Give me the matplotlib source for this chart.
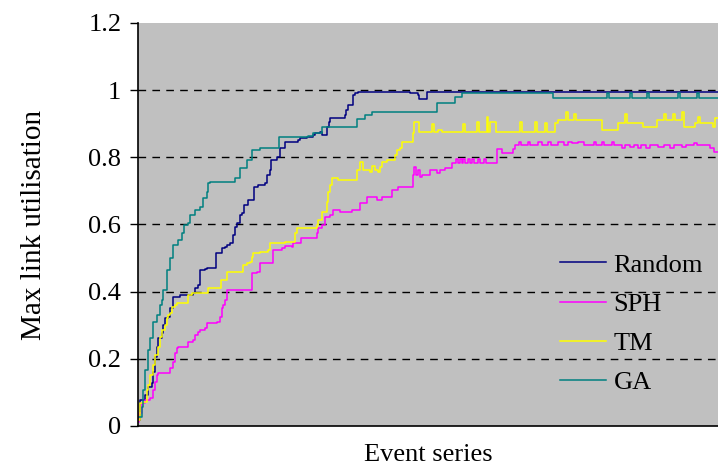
import matplotlib
matplotlib.use('Agg')
import matplotlib.pyplot as plt

plt.rcParams['font.family'] = ['Liberation Serif', 'DejaVu Serif']

# step series: event index where the value changes, and the new value
random_x = [0, 2, 7, 10, 14, 15, 17, 19, 20, 24, 25, 27, 30, 32, 35, 42, 55, 57, 60, 62, 67, 69,
            78, 84, 87, 89, 92, 95, 97, 99, 102, 104, 106, 110, 116, 120, 127, 129, 132, 133, 139,
            142, 147, 160, 162, 169, 175, 177, 182, 184, 189, 191, 192, 207, 208, 210, 215, 217,
            220, 272, 280, 281, 289, 580]
random_y = [0.018, 0.077, 0.092, 0.116, 0.128, 0.161, 0.205, 0.235, 0.262, 0.277, 0.301, 0.321,
            0.324, 0.351, 0.384, 0.39, 0.396, 0.411, 0.42, 0.464, 0.467, 0.47, 0.515, 0.53, 0.533,
            0.539, 0.545, 0.568, 0.592, 0.604, 0.628, 0.634, 0.658, 0.673, 0.711, 0.717, 0.723,
            0.747, 0.762, 0.792, 0.801, 0.827, 0.845, 0.851, 0.857, 0.86, 0.866, 0.872, 0.875,
            0.866, 0.89, 0.905, 0.917, 0.926, 0.94, 0.955, 0.985, 0.991, 0.994, 0.991, 0.985,
            0.973, 0.994, 0.994]

sph_x = [0, 1, 4, 7, 12, 15, 17, 19, 20, 32, 35, 37, 39, 40, 50, 55, 57, 60, 62, 67, 69, 79, 82,
         84, 85, 87, 89, 114, 119, 122, 135, 144, 147, 154, 155, 163, 179, 180, 184, 187, 192,
         195, 202, 214, 222, 229, 239, 244, 254, 260, 275, 276, 278, 280, 282, 284, 292, 299,
         302, 307, 314, 318, 320, 322, 324, 325, 327, 330, 332, 334, 336, 340, 342, 346, 348,
         359, 364, 375, 377, 381, 383, 390, 392, 400, 404, 410, 413, 420, 426, 430, 434, 440,
         446, 456, 458, 464, 466, 474, 476, 484, 487, 492, 496, 500, 503, 508, 512, 520, 526,
         532, 536, 544, 548, 556, 559, 572, 576, 580]
sph_y = [0.012, 0.039, 0.068, 0.077, 0.083, 0.107, 0.131, 0.152, 0.158, 0.173, 0.19, 0.217,
         0.232, 0.235, 0.25, 0.256, 0.271, 0.28, 0.286, 0.292, 0.307, 0.31, 0.324, 0.351, 0.36,
         0.375, 0.405, 0.455, 0.458, 0.485, 0.524, 0.53, 0.536, 0.533, 0.545, 0.56, 0.574,
         0.589, 0.598, 0.622, 0.628, 0.643, 0.637, 0.643, 0.664, 0.682, 0.673, 0.682, 0.702,
         0.711, 0.747, 0.771, 0.747, 0.762, 0.741, 0.747, 0.762, 0.753, 0.762, 0.768, 0.783,
         0.795, 0.783, 0.795, 0.783, 0.795, 0.783, 0.795, 0.783, 0.795, 0.783, 0.795, 0.783,
         0.795, 0.783, 0.824, 0.813, 0.824, 0.836, 0.845, 0.836, 0.845, 0.836, 0.845, 0.836,
         0.845, 0.836, 0.845, 0.836, 0.845, 0.842, 0.845, 0.836, 0.845, 0.836, 0.845, 0.836,
         0.845, 0.836, 0.827, 0.836, 0.83, 0.836, 0.827, 0.836, 0.827, 0.836, 0.83, 0.836,
         0.827, 0.836, 0.83, 0.836, 0.842, 0.836, 0.827, 0.815, 0.815]

tm_x = [0, 2, 5, 9, 10, 12, 15, 17, 20, 22, 24, 27, 29, 30, 32, 34, 37, 39, 50, 54, 70, 83, 89,
        105, 109, 112, 114, 115, 122, 130, 132, 147, 157, 159, 179, 180, 184, 189, 190, 192,
        194, 200, 219, 222, 225, 232, 234, 237, 240, 242, 244, 249, 257, 259, 262, 264, 275,
        276, 281, 294, 296, 300, 304, 325, 327, 339, 341, 349, 350, 352, 358, 382, 384, 397,
        399, 407, 409, 417, 420, 428, 430, 436, 438, 464, 480, 487, 489, 505, 519, 526, 528,
        535, 537, 544, 546, 557, 560, 562, 575, 577, 580]
tm_y = [0.018, 0.068, 0.071, 0.107, 0.122, 0.152, 0.182, 0.211, 0.235, 0.265, 0.286, 0.301,
        0.321, 0.33, 0.336, 0.354, 0.36, 0.366, 0.39, 0.396, 0.411, 0.435, 0.458, 0.479, 0.485,
        0.488, 0.503, 0.515, 0.518, 0.524, 0.545, 0.548, 0.574, 0.589, 0.598, 0.613, 0.637,
        0.667, 0.696, 0.717, 0.738, 0.732, 0.762, 0.786, 0.762, 0.756, 0.774, 0.762, 0.756,
        0.771, 0.786, 0.792, 0.807, 0.821, 0.827, 0.845, 0.872, 0.905, 0.875, 0.9, 0.875, 0.88,
        0.875, 0.9, 0.875, 0.905, 0.875, 0.92, 0.875, 0.905, 0.875, 0.905, 0.875, 0.905, 0.875,
        0.902, 0.875, 0.902, 0.911, 0.935, 0.911, 0.93, 0.911, 0.881, 0.902, 0.93, 0.902, 0.89,
        0.911, 0.93, 0.911, 0.93, 0.911, 0.935, 0.89, 0.902, 0.92, 0.902, 0.89, 0.917, 0.917]

ga_x = [0, 4, 5, 7, 10, 12, 15, 19, 22, 24, 25, 29, 32, 35, 40, 44, 46, 50, 52, 57, 62, 65, 69,
        70, 72, 97, 102, 109, 114, 122, 141, 170, 175, 184, 219, 227, 234, 299, 317, 324, 415,
        469, 471, 492, 494, 509, 511, 540, 542, 559, 561, 580]
ga_y = [0.027, 0.057, 0.107, 0.167, 0.226, 0.262, 0.31, 0.33, 0.36, 0.375, 0.405, 0.464, 0.5,
        0.539, 0.554, 0.574, 0.598, 0.604, 0.628, 0.643, 0.652, 0.679, 0.696, 0.723, 0.726,
        0.738, 0.768, 0.792, 0.821, 0.827, 0.86, 0.863, 0.872, 0.89, 0.914, 0.926, 0.935,
        0.961, 0.979, 0.991, 0.976, 0.991, 0.976, 0.991, 0.976, 0.991, 0.976, 0.991, 0.976,
        0.991, 0.976, 0.976]

y_ticks = [0, 0.2, 0.4, 0.6, 0.8, 1.0, 1.2]
y_labels = ['0', '0.2', '0.4', '0.6', '0.8', '1', '1.2']

series = [
    ('Random', random_x, random_y, '#000080'),
    ('SPH', sph_x, sph_y, '#FF00FF'),
    ('TM', tm_x, tm_y, '#FFFF00'),
    ('GA', ga_x, ga_y, '#008080'),
]

fig = plt.figure(figsize=(7.18, 4.73), dpi=100)
ax = fig.add_axes([0.1922, 0.0994, 0.8078, 0.852])
ax.set_facecolor('#C0C0C0')

# dashed gridlines at each tick except the edges
for t in y_ticks[1:-1]:
    ax.axhline(t, color='black', lw=1.0, dashes=(5.5, 4.5), zorder=1)

for name, xs, ys, col in series:
    ax.step(xs, ys, where='post', color=col, lw=1.1, label=name, zorder=2)

ax.set_xlim(0, 580)
ax.set_ylim(0, 1.2)
ax.set_yticks(y_ticks)
ax.set_yticklabels(y_labels)
ax.set_xticks([])
ax.tick_params(axis='y', direction='out', length=6, width=1, labelsize=19, pad=6)

ax.spines['top'].set_visible(False)
ax.spines['right'].set_visible(False)
ax.spines['left'].set_linewidth(1.2)
ax.spines['bottom'].set_linewidth(1.2)

ax.set_ylabel('Max link utilisation', fontsize=21, labelpad=30)
ax.set_xlabel('Event series', fontsize=19, labelpad=13)

ax.legend(loc='upper left', bbox_to_anchor=(0.695, 0.475), frameon=False, fontsize=19,
          handlelength=1.75, handletextpad=0.3, labelspacing=0.6, borderpad=0.2)

fig.savefig('out.png', dpi=100)
